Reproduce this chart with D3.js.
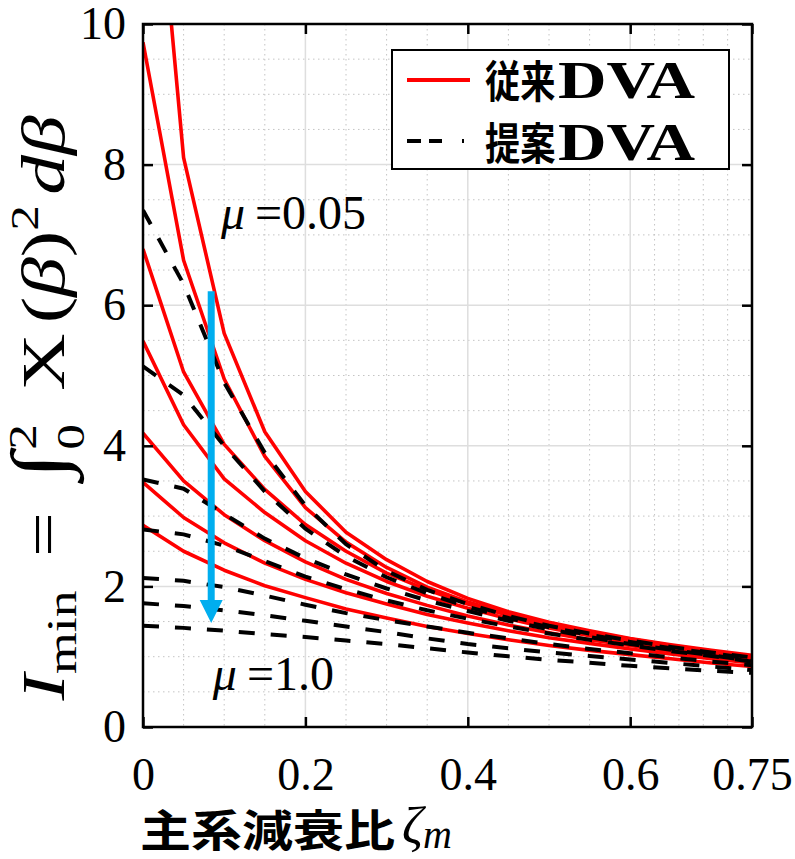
<!DOCTYPE html>
<html>
<head>
<meta charset="utf-8">
<script src="https://cdn.jsdelivr.net/npm/d3@7"></script>
<style>
  body { margin: 0; background: white; }
  svg { display: block; }
</style>
</head>
<body>
<script>
// damping ratio of main system
const zeta = [0, 0.05, 0.1, 0.15, 0.2, 0.25, 0.3, 0.35, 0.4, 0.45, 0.5, 0.55, 0.6, 0.65, 0.7, 0.75];

// conventional DVA (red), mu = 0.05 ... 1.0
const conv1 = [14.4, 8.1, 5.6, 4.2, 3.35, 2.77, 2.38, 2.07, 1.83, 1.64, 1.49, 1.37, 1.26, 1.17, 1.09, 1.02];
const conv2 = [9.74, 6.64, 4.95, 3.85, 3.12, 2.63, 2.27, 1.99, 1.78, 1.61, 1.47, 1.35, 1.25, 1.16, 1.08, 1.0];
const conv3 = [6.8, 5.05, 4.02, 3.38, 2.88, 2.5, 2.19, 1.95, 1.75, 1.59, 1.45, 1.33, 1.23, 1.14, 1.06, 0.98];
const conv4 = [5.49, 4.3, 3.53, 3.05, 2.65, 2.33, 2.07, 1.86, 1.69, 1.54, 1.41, 1.3, 1.2, 1.12, 1.04, 0.96];
const conv5 = [4.18, 3.5, 3.02, 2.65, 2.35, 2.1, 1.9, 1.73, 1.58, 1.45, 1.34, 1.24, 1.16, 1.08, 1.01, 0.94];
const conv6 = [3.48, 2.98, 2.62, 2.33, 2.1, 1.91, 1.75, 1.6, 1.48, 1.37, 1.27, 1.19, 1.11, 1.04, 0.97, 0.91];
const conv7 = [2.87, 2.5, 2.23, 2.01, 1.84, 1.68, 1.55, 1.43, 1.33, 1.24, 1.16, 1.09, 1.03, 0.97, 0.91, 0.86];

// proposed DVA (black dashed)
const prop1 = [7.35, 6.3, 4.9, 3.9, 3.15, 2.6, 2.22, 1.95, 1.75, 1.58, 1.44, 1.33, 1.23, 1.14, 1.06, 0.99];
const prop2 = [5.13, 4.72, 4.0, 3.35, 2.82, 2.43, 2.13, 1.9, 1.71, 1.55, 1.42, 1.31, 1.21, 1.12, 1.05, 0.97];
const prop3 = [3.52, 3.39, 3.03, 2.68, 2.4, 2.17, 1.97, 1.8, 1.65, 1.51, 1.39, 1.28, 1.18, 1.1, 1.02, 0.94];
const prop4 = [2.81, 2.74, 2.58, 2.36, 2.14, 1.96, 1.8, 1.66, 1.54, 1.43, 1.33, 1.24, 1.16, 1.08, 1.01, 0.93];
const prop5 = [2.12, 2.08, 1.99, 1.87, 1.74, 1.62, 1.52, 1.43, 1.34, 1.26, 1.18, 1.11, 1.05, 0.99, 0.93, 0.88];
const prop6 = [1.76, 1.72, 1.66, 1.59, 1.51, 1.43, 1.35, 1.26, 1.18, 1.12, 1.06, 1.01, 0.96, 0.91, 0.86, 0.81];
const prop7 = [1.44, 1.41, 1.37, 1.32, 1.28, 1.23, 1.18, 1.12, 1.06, 1.005, 0.955, 0.915, 0.87, 0.835, 0.8, 0.77];

const xTicks = [0, 0.2, 0.4, 0.6, 0.75];
const yTicks = [0, 2, 4, 6, 8, 10];
const xMinor = [0.05, 0.1, 0.15, 0.25, 0.3, 0.35, 0.45, 0.5, 0.55, 0.63, 0.66, 0.69, 0.72];
const yMinor = [0.5, 1, 1.5, 2.5, 3, 3.5, 4.5, 5, 5.5, 6.5, 7, 7.5, 8.5, 9, 9.5];

// arrow + mu labels (data units)
const arrowZeta = 0.084, arrowFrom = 6.2, arrowTo = 1.48;
const muTop = { z: 0.096, v: 7.08, txt: "=0.05" };
const muBot = { z: 0.086, v: 0.53, txt: "=1.0" };

const W = 795, H = 859;
const m = { l: 143, r: 752, t: 24, b: 727 };
const serif = "Liberation Serif, Times New Roman, serif";

const x = d3.scaleLinear().domain([0, 0.75]).range([m.l, m.r]);
const y = d3.scaleLinear().domain([0, 10]).range([m.b, m.t]);

const svg = d3.select("body").append("svg").attr("width", W).attr("height", H);

svg.append("defs").append("clipPath").attr("id", "clip")
  .append("rect").attr("x", m.l).attr("y", m.t).attr("width", m.r - m.l).attr("height", m.b - m.t);

// grid
const grid = svg.append("g");
grid.selectAll(".xm").data(xMinor).enter().append("line")
  .attr("x1", d => x(d)).attr("x2", d => x(d)).attr("y1", m.t).attr("y2", m.b)
  .attr("stroke", "#c4c4c4").attr("stroke-width", 1).attr("stroke-dasharray", "1.5,3.5");
grid.selectAll(".ym").data(yMinor).enter().append("line")
  .attr("y1", d => y(d)).attr("y2", d => y(d)).attr("x1", m.l).attr("x2", m.r)
  .attr("stroke", "#c4c4c4").attr("stroke-width", 1).attr("stroke-dasharray", "1.5,3.5");
grid.selectAll(".xM").data(xTicks.slice(1, -1)).enter().append("line")
  .attr("x1", d => x(d)).attr("x2", d => x(d)).attr("y1", m.t).attr("y2", m.b)
  .attr("stroke", "#dedede").attr("stroke-width", 1.5);
grid.selectAll(".yM").data(yTicks.slice(1, -1)).enter().append("line")
  .attr("y1", d => y(d)).attr("y2", d => y(d)).attr("x1", m.l).attr("x2", m.r)
  .attr("stroke", "#dedede").attr("stroke-width", 1.5);

// curves
const line = d3.line().x((d, i) => x(zeta[i])).y(d => y(d));
const plot = svg.append("g").attr("clip-path", "url(#clip)");
[conv1, conv2, conv3, conv4, conv5, conv6, conv7].forEach(s => {
  plot.append("path").attr("d", line(s)).attr("fill", "none")
    .attr("stroke", "#ff0000").attr("stroke-width", 3.6).attr("stroke-linejoin", "round");
});
[prop1, prop2, prop3, prop4, prop5, prop6, prop7].forEach(s => {
  plot.append("path").attr("d", line(s)).attr("fill", "none")
    .attr("stroke", "black").attr("stroke-width", 4).attr("stroke-dasharray", "16,16");
});

// axes
const fmt = d => String(d);
const ax = svg.append("g");
ax.append("g").attr("transform", `translate(0,${m.b})`)
  .call(d3.axisBottom(x).tickValues(xTicks).tickSize(-10).tickPadding(30).tickFormat(fmt));
ax.append("g").attr("transform", `translate(0,${m.t})`)
  .call(d3.axisTop(x).tickValues(xTicks).tickSize(-10).tickFormat(""));
ax.append("g").attr("transform", `translate(${m.l},0)`)
  .call(d3.axisLeft(y).tickValues(yTicks).tickSize(-10).tickPadding(17).tickFormat(fmt));
ax.append("g").attr("transform", `translate(${m.r},0)`)
  .call(d3.axisRight(y).tickValues(yTicks).tickSize(-10).tickFormat(""));
ax.selectAll(".domain").remove();
ax.selectAll(".tick line").attr("stroke", "black").attr("stroke-width", 2.5);
ax.selectAll(".tick text").attr("font-family", serif).attr("font-size", 46).attr("fill", "black");
svg.append("rect").attr("x", m.l).attr("y", m.t).attr("width", m.r - m.l).attr("height", m.b - m.t)
  .attr("fill", "none").attr("stroke", "black").attr("stroke-width", 2.5);

// arrow
const ac = "#00aeef";
svg.append("line").attr("x1", x(arrowZeta)).attr("x2", x(arrowZeta))
  .attr("y1", y(arrowFrom)).attr("y2", y(arrowTo) - 20)
  .attr("stroke", ac).attr("stroke-width", 7);
svg.append("path")
  .attr("d", `M${x(arrowZeta) - 11.5},${y(arrowTo) - 23} L${x(arrowZeta) + 11.5},${y(arrowTo) - 23} L${x(arrowZeta)},${y(arrowTo)} Z`)
  .attr("fill", ac);

// mu labels
[muTop, muBot].forEach(t => {
  const tx = svg.append("text").attr("x", x(t.z)).attr("y", y(t.v))
    .attr("font-family", serif).attr("font-size", 48);
  tx.append("tspan").attr("font-style", "italic").text("\u03bc");
  tx.append("tspan").attr("dx", 10).text(t.txt);
});

// y label
const yl = svg.append("text")
  .attr("transform", "translate(64,408) rotate(-90)")
  .attr("text-anchor", "middle")
  .attr("font-family", serif).attr("font-size", 62)
  .attr("textLength", 585).attr("lengthAdjust", "spacingAndGlyphs");
yl.append("tspan").attr("font-style", "italic").text("I");
yl.append("tspan").attr("font-size", 42).attr("dy", 12).text("min");
yl.append("tspan").attr("dy", -12).attr("dx", 26).text("=");
yl.append("tspan").attr("dx", 26).attr("font-size", 76).text("\u222b");
yl.append("tspan").attr("font-size", 40).attr("dy", -28).attr("dx", 2).text("2");
yl.append("tspan").attr("font-size", 40).attr("dy", 48).attr("dx", -20).text("0");
yl.append("tspan").attr("dy", -20).attr("dx", 26).text("X");
yl.append("tspan").attr("dx", 8).text("(");
yl.append("tspan").attr("font-style", "italic").text("\u03b2");
yl.append("tspan").text(")");
yl.append("tspan").attr("font-size", 40).attr("dy", -26).text("2");
yl.append("tspan").attr("dy", 26).attr("dx", 8).attr("font-style", "italic").text("d\u03b2");

// x label
svg.append("text").attr("x", 140).attr("y", 847)
  .attr("font-family", "Noto Sans CJK JP").attr("font-weight", "bold").attr("font-size", 44)
  .attr("textLength", 255).attr("lengthAdjust", "spacingAndGlyphs")
  .text("主系減衰比");
const zl = svg.append("text").attr("x", 402).attr("y", 843)
  .attr("font-family", serif).attr("font-size", 52).attr("font-style", "italic");
zl.append("tspan").text("\u03b6");
zl.append("tspan").attr("font-size", 40).attr("dy", 5).text("m");

// legend
const lg = svg.append("g");
lg.append("rect").attr("x", 392).attr("y", 50).attr("width", 337).attr("height", 119)
  .attr("fill", "white").attr("stroke", "black").attr("stroke-width", 2);
lg.append("line").attr("x1", 407).attr("x2", 470).attr("y1", 80).attr("y2", 80)
  .attr("stroke", "#ff0000").attr("stroke-width", 4);
lg.append("line").attr("x1", 407).attr("x2", 470).attr("y1", 141).attr("y2", 141)
  .attr("stroke", "black").attr("stroke-width", 4).attr("stroke-dasharray", "14,8,13,20,2,20");
[["従来", 98], ["提案", 160]].forEach(([s, by]) => {
  lg.append("text").attr("transform", `translate(485,${by}) scale(0.8,1)`)
    .attr("font-family", "Noto Sans CJK JP").attr("font-weight", "bold").attr("font-size", 44)
    .text(s);
  lg.append("text").attr("x", 558).attr("y", by)
    .attr("font-family", serif).attr("font-weight", "bold").attr("font-size", 52)
    .attr("textLength", 137).attr("lengthAdjust", "spacingAndGlyphs").text("DVA");
});
</script>
</body>
</html>
